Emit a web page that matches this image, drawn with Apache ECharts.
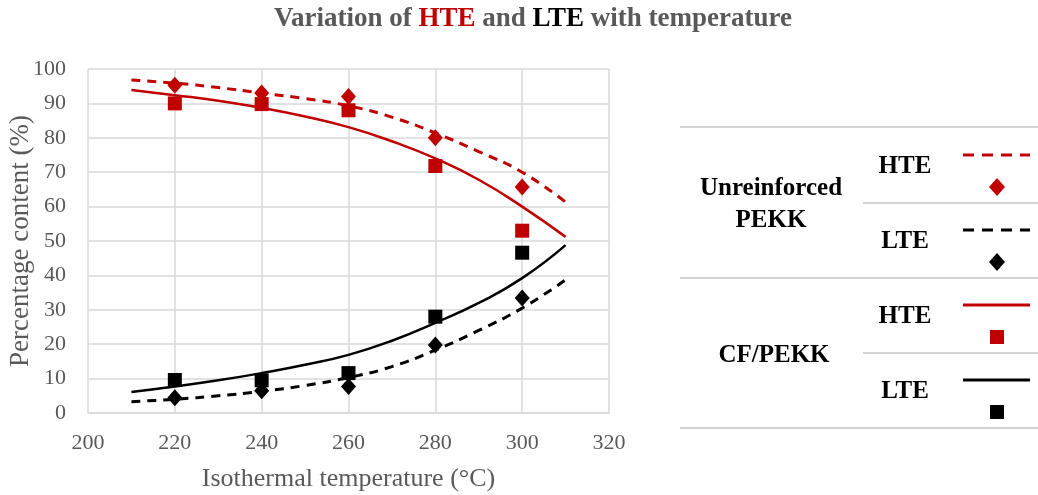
<!DOCTYPE html>
<html><head><meta charset="utf-8">
<script src="https://cdn.jsdelivr.net/npm/echarts@6/dist/echarts.min.js"></script>
<style>html,body{margin:0;padding:0;background:#fff}#c{width:1038px;height:495px}</style>
</head><body><div id="c"></div>
<script>
// Measured points
const temps = [220, 240, 260, 280, 300];
const unreinfHTE = [95.3, 93, 92, 80, 65.7];
const unreinfLTE = [4.4, 6.5, 7.7, 19.8, 33.4];
const cfHTE = [90, 89.8, 88, 71.8, 53];
const cfLTE = [9.6, 9.5, 11.6, 28, 46.6];
// Trendlines
const trendT = [210, 220, 230, 240, 250, 260, 270, 280, 290, 300, 310];
const trendUnreinfHTE = [96.8, 95.9, 94.6, 93, 91.4, 89.3, 86, 81.4, 76, 70, 61.3];
const trendUnreinfLTE = [3.3, 4.0, 5.0, 6.3, 8.0, 10.3, 13.5, 18.3, 24, 30.5, 38.7];
const trendCfHTE = [93.9, 92.4, 90.8, 88.7, 86.2, 83.1, 79, 74, 67.8, 60, 51.2];
const trendCfLTE = [6.1, 7.7, 9.5, 11.6, 14.0, 16.9, 21, 26.2, 32, 39.2, 48.8];

const RED = '#C00000', BLACK = '#000000', GRAY = '#595959';
const SERIF = '"Liberation Serif","Times New Roman",serif';
const pair = (xs, ys) => xs.map((x, i) => [x, ys[i]]);

function lineSeries(name, ys, color, dashed) {
  return { name, type: 'line', data: pair(trendT, ys), smooth: true, showSymbol: false, symbol: 'none',
    lineStyle: { color, width: dashed ? 3 : 2.5, type: dashed ? [9, 7] : 'solid' }, z: 2, silent: true };
}
function scatterSeries(name, ys, color, sym) {
  return { name, type: 'scatter', data: pair(temps, ys), symbol: sym,
    symbolSize: sym === 'diamond' ? [15, 17] : 14, itemStyle: { color, opacity: 1 }, z: 3 };
}

const chart = echarts.init(document.getElementById('c'), null, { renderer: 'canvas' });
const legX = 680, legR = 1038, subX = 863;
const g = [];
const hl = (y, x1) => g.push({ type: 'line', shape: { x1, y1: y, x2: legR, y2: y }, style: { stroke: '#A6A6A6', lineWidth: 1.2 } });
hl(127, legX); hl(203, subX); hl(278, legX); hl(353, subX); hl(428, legX);
const txt = (x, y, t) => g.push({ type: 'text', x, y, style: { text: t, font: 'bold 25px ' + SERIF, fill: BLACK, textAlign: 'center', textVerticalAlign: 'middle' } });
txt(771, 189, 'Unreinforced'); txt(771, 221, 'PEKK'); txt(774, 356, 'CF/PEKK');
txt(905, 167, 'HTE'); txt(905, 242, 'LTE'); txt(905, 317, 'HTE'); txt(905, 392, 'LTE');
const seg = (y, color, dashed) => g.push({ type: 'line', shape: { x1: 963, y1: y, x2: 1030, y2: y }, style: { stroke: color, lineWidth: 3, lineDash: dashed ? [11, 8] : null } });
const dia = (y, color) => g.push({ type: 'polygon', shape: { points: [[997, y - 9], [1005, y], [997, y + 9], [989, y]] }, style: { fill: color } });
const sq = (y, color) => g.push({ type: 'rect', shape: { x: 990, y: y - 7, width: 14, height: 14 }, style: { fill: color } });
seg(155, RED, true); dia(187, RED); seg(230, BLACK, true); dia(262, BLACK);
seg(305, RED, false); sq(337, RED); seg(380, BLACK, false); sq(412, BLACK);

chart.setOption({
  animation: false,
  backgroundColor: '#fff',
  title: {
    text: '{g|Variation of }{r|HTE}{g| and }{k|LTE}{g| with temperature}',
    left: 528, top: 1, textAlign: 'center',
    textStyle: { rich: {
      g: { color: GRAY, fontFamily: SERIF, fontWeight: 'bold', fontSize: 27 },
      r: { color: RED, fontFamily: SERIF, fontWeight: 'bold', fontSize: 27 },
      k: { color: BLACK, fontFamily: SERIF, fontWeight: 'bold', fontSize: 27 } } }
  },
  grid: { left: 88, right: 429, top: 69, bottom: 82, containLabel: false, outerBoundsMode: 'none' },
  xAxis: {
    type: 'value', min: 200, max: 320, interval: 20,
    name: 'Isothermal temperature (°C)', nameLocation: 'middle', nameGap: 53, nameMoveOverlap: false,
    nameTextStyle: { fontFamily: SERIF, fontSize: 26, color: GRAY },
    axisLine: { show: true, lineStyle: { color: '#D9D9D9', width: 1.5 } },
    axisTick: { show: false },
    axisLabel: { fontFamily: SERIF, fontSize: 22, color: GRAY, margin: 19 },
    splitLine: { show: true, lineStyle: { color: '#D9D9D9', width: 1.5 } }
  },
  yAxis: {
    type: 'value', min: 0, max: 100, interval: 10,
    name: 'Percentage content (%)', nameLocation: 'middle', nameGap: 54, nameMoveOverlap: false,
    nameTextStyle: { fontFamily: SERIF, fontSize: 27, color: GRAY },
    axisLine: { show: false }, axisTick: { show: false },
    axisLabel: { fontFamily: SERIF, fontSize: 22, color: GRAY, margin: 22 },
    splitLine: { show: true, lineStyle: { color: '#D9D9D9', width: 1.5 } }
  },
  graphic: g,
  series: [
    lineSeries('Unreinforced HTE trend', trendUnreinfHTE, RED, true),
    lineSeries('Unreinforced LTE trend', trendUnreinfLTE, BLACK, true),
    lineSeries('CF HTE trend', trendCfHTE, RED, false),
    lineSeries('CF LTE trend', trendCfLTE, BLACK, false),
    scatterSeries('Unreinforced HTE', unreinfHTE, RED, 'diamond'),
    scatterSeries('Unreinforced LTE', unreinfLTE, BLACK, 'diamond'),
    scatterSeries('CF HTE', cfHTE, RED, 'rect'),
    scatterSeries('CF LTE', cfLTE, BLACK, 'rect')
  ]
});
</script></body></html>
